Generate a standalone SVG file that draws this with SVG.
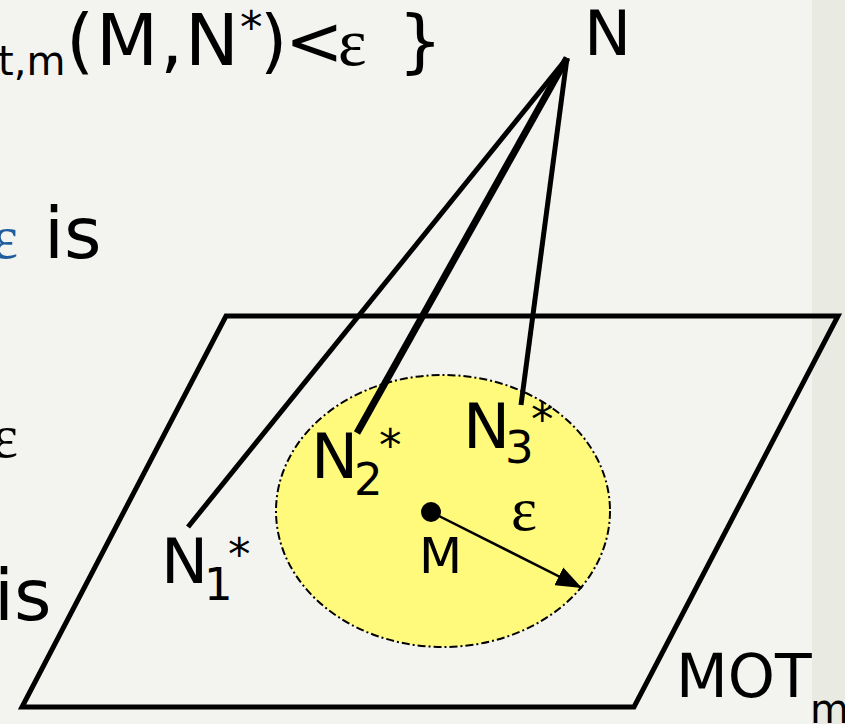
<svg xmlns="http://www.w3.org/2000/svg" width="845" height="724" viewBox="0 0 845 724">
<style>
.s{font-family:"DejaVu Sans",Verdana,sans-serif;fill:#000}
.g{font-family:"Liberation Serif","Times New Roman",serif;fill:#000}
.ln{stroke:#000;stroke-width:5;fill:none;stroke-linecap:butt}
.thick{stroke-width:7}
</style>
<defs>
<marker id="ah" markerUnits="userSpaceOnUse" markerWidth="28" markerHeight="20" refX="26" refY="10" orient="auto">
<path d="M0,0 L26,10 L0,20 Z" fill="#000"/>
</marker>
</defs>
<rect width="845" height="724" fill="#f3f4ef"/>
<rect x="812" y="0" width="33" height="724" fill="#e9ebe2"/>

<g id="slide-text">
<text class="s" y="75" font-size="40" x="-2">t,m</text>
<text class="s" y="65" font-size="72" x="66" letter-spacing="2">(M,N</text>
<text class="s" y="43" font-size="45" x="240">*</text>
<text class="s" y="65" font-size="70" x="260">)</text>
<text class="s" y="65" font-size="70" x="285">&lt;</text>
<text class="g" y="65" font-size="68" x="338">ε</text>
<text class="s" y="65" font-size="70" x="398">}</text>
<text class="g" y="258" font-size="62" x="-8" style="fill:#1f5c9e">ε</text>
<text class="s" y="258" font-size="72" x="44">is</text>
<text class="g" y="457" font-size="62" x="-8">ε</text>
<text class="s" y="620" font-size="72" x="-6">is</text>
</g>

<g id="plane">
<polygon points="226,316 838,316 634,707 22,707" class="ln"/>
</g>
<g id="region">
<ellipse cx="443" cy="511" rx="167" ry="136" fill="#fffa7c" stroke="#000" stroke-width="2" stroke-dasharray="8,3,2,3"/>
</g>

<g id="connectors">
<line x1="567" y1="58" x2="188" y2="527" class="ln"/>
<line x1="567" y1="58" x2="357" y2="433" class="ln thick"/>
<line x1="567" y1="58" x2="521" y2="405" class="ln"/>
<line x1="431" y1="512" x2="582" y2="588" stroke="#000" stroke-width="2.5" marker-end="url(#ah)"/>
</g>

<g id="node-N">
<text class="s" x="584" y="55" font-size="63">N</text>
</g>
<g id="node-N1">
<text class="s" x="161" y="583" font-size="63">N</text>
<text class="s" x="204" y="600" font-size="45">1</text>
<text class="s" x="228" y="570" font-size="45">*</text>
</g>
<g id="node-N2">
<text class="s" x="311" y="478" font-size="63">N</text>
<text class="s" x="354" y="495" font-size="45">2</text>
<text class="s" x="379" y="461" font-size="45">*</text>
</g>
<g id="node-N3">
<text class="s" x="463" y="448" font-size="63">N</text>
<text class="s" x="505" y="463" font-size="45">3</text>
<text class="s" x="531" y="435" font-size="45">*</text>
</g>
<g id="node-M">
<circle cx="431" cy="512" r="10" fill="#000"/>
<text class="s" x="419" y="573" font-size="50">M</text>
</g>
<g id="label-eps">
<text class="g" x="511" y="530" font-size="62">ε</text>
</g>
<g id="label-MOT">
<text class="s" x="676" y="697" font-size="60">MOT</text>
<text class="s" x="810" y="723" font-size="40">m</text>
</g>
</svg>
